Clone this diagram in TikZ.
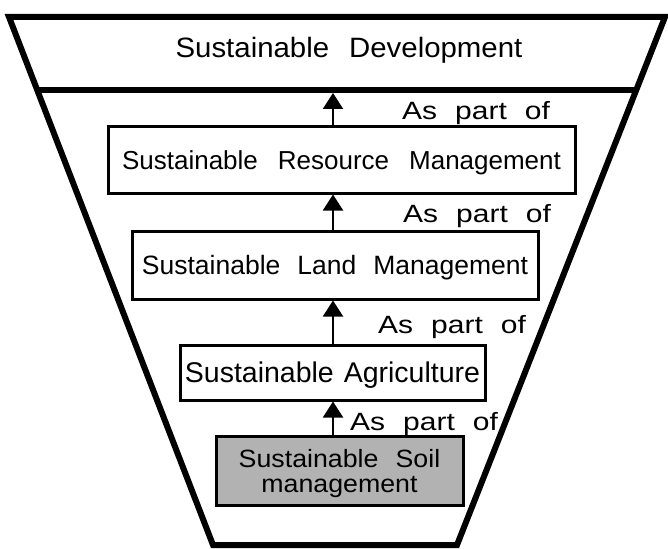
\documentclass[tikz,border=0pt]{standalone}
\usepackage{fontspec}
\usepackage{graphicx}
\setmainfont{Liberation Sans}
\usetikzlibrary{arrows.meta}
\begin{document}
\begin{tikzpicture}[x=1pt,y=-1pt,
  box/.style={draw,line width=3pt,inner sep=0pt,text depth=0pt,anchor=center},
  frame/.style={line width=6pt,line join=miter},
  arr/.style={line width=2pt,-{Triangle[width=20pt,length=16pt]}},
  apo/.style={anchor=base west,inner sep=0pt,font={\fontsize{25}{28}\selectfont\spaceskip=15pt\relax}},
]
\fill[white] (0,0) rectangle (668,548);
\useasboundingbox (0,0) rectangle (668,548);

% outer funnel
\coordinate (tl) at (9,17);
\coordinate (tr) at (665,17);
\coordinate (br) at (457,545);
\coordinate (bl) at (213,545);
\draw[frame] (tl) -- (tr) -- (br) -- (bl) -- cycle;
\coordinate (l2l) at (37,90);
\coordinate (l2r) at (636,90);
\draw[frame] (l2l) -- (l2r);

\node[inner sep=0pt,text height=20pt,text depth=0pt,
  font={\fontsize{28}{30}\selectfont\spaceskip=19pt\relax}] (title) at (349,48)
  {\scalebox{1.05}[1]{Sustainable Development}};

\node[box,minimum width=467pt,minimum height=66pt,text height=18.6pt,
  font={\fontsize{26}{28}\selectfont\spaceskip=20pt\relax}] (res) at (341.5,160)
  {Sustainable Resource Management};

\node[box,minimum width=406pt,minimum height=68pt,text height=19pt,
  font={\fontsize{26.5}{28}\selectfont\spaceskip=17pt\relax}] (land) at (335,265)
  {Sustainable Land Management};

\node[box,minimum width=305pt,minimum height=55pt,text height=20.4pt,
  font={\fontsize{28.5}{30}\selectfont\spaceskip=10pt\relax}] (agri) at (332.5,372.5)
  {Sustainable Agriculture};

\node[box,fill=black!30,align=center,minimum width=247pt,minimum height=69pt,
  text height=43pt,text depth=0pt,
  font={\fontsize{25}{25}\selectfont\spaceskip=16pt\relax}] (soil) at (339.5,470.5)
  {\scalebox{1.07}[1]{Sustainable Soil}\\\scalebox{1.07}[1]{management}};

\coordinate (ax) at (333,0);
\draw[arr] (res.north -| ax) -- ([yshift=-3pt]ax |- l2l);
\draw[arr] (land.north -| ax) -- (res.south -| ax);
\draw[arr] (agri.north -| ax) -- (land.south -| ax);
\draw[arr] (soil.north -| ax) -- (agri.south -| ax);

\node[apo] (ap1) at (402,120) {\scalebox{1.2}[1]{As part of}};
\node[apo] (ap2) at (403,222) {\scalebox{1.2}[1]{As part of}};
\node[apo] (ap3) at (378,333) {\scalebox{1.2}[1]{As part of}};
\node[apo] (ap4) at (350,430) {\scalebox{1.2}[1]{As part of}};
\end{tikzpicture}
\end{document}
